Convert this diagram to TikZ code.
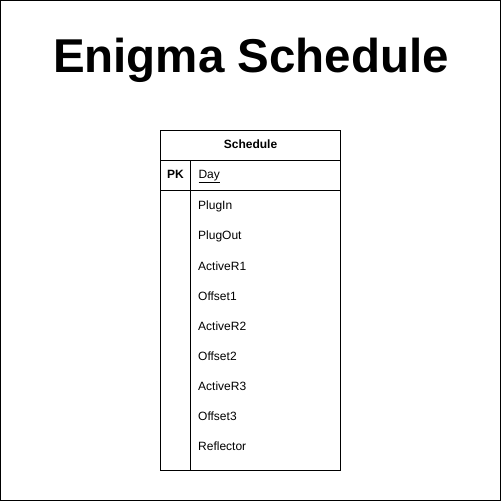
\documentclass[tikz,border=0pt]{standalone}
\usepackage{fontspec}
\setmainfont{Liberation Sans}
\usetikzlibrary{matrix}

\tikzset{
    cell/.style={draw, line width=1pt, minimum height=30, inner sep=0pt, outer sep=0pt, text height=9, text depth=3, font=\fontsize{12}{14}\selectfont},
    field/.style={anchor=west, minimum height=30, inner sep=0pt, font=\fontsize{12}{14}\selectfont}
}

\begin{document}
\begin{tikzpicture}[x=1pt,y=-1pt]
\useasboundingbox (0,0) rectangle (501,501);
\draw[line width=1pt] (0.5,0.5) rectangle (500.5,500.5);
\node[anchor=base, inner sep=0pt, font=\fontsize{47.5}{54}\selectfont\bfseries] (title) at (251,72) {Enigma Schedule};

\node[cell, minimum width=180] (head) at (250.5,145.5) {\bfseries Schedule};
\node[cell, minimum width=30] (pk) at (175.5,175.5) {\bfseries PK};
\node[cell, minimum width=150, anchor=west, text width=134, align=left, inner xsep=8pt] (day) at (pk.east) {\underline{Day}};
\node[cell, minimum width=30, minimum height=280, anchor=north] (pkcol) at (pk.south) {};
\node[cell, minimum width=150, minimum height=280, anchor=north] (fieldcol) at (day.south) {};

\matrix (fields) [matrix of nodes, nodes={field}, row sep=0pt, inner sep=0pt, anchor=north west] at (198,191.5) {
    PlugIn \\
    PlugOut \\
    ActiveR1 \\
    Offset1 \\
    ActiveR2 \\
    Offset2 \\
    ActiveR3 \\
    Offset3 \\
    Reflector \\
};
\end{tikzpicture}
\end{document}
